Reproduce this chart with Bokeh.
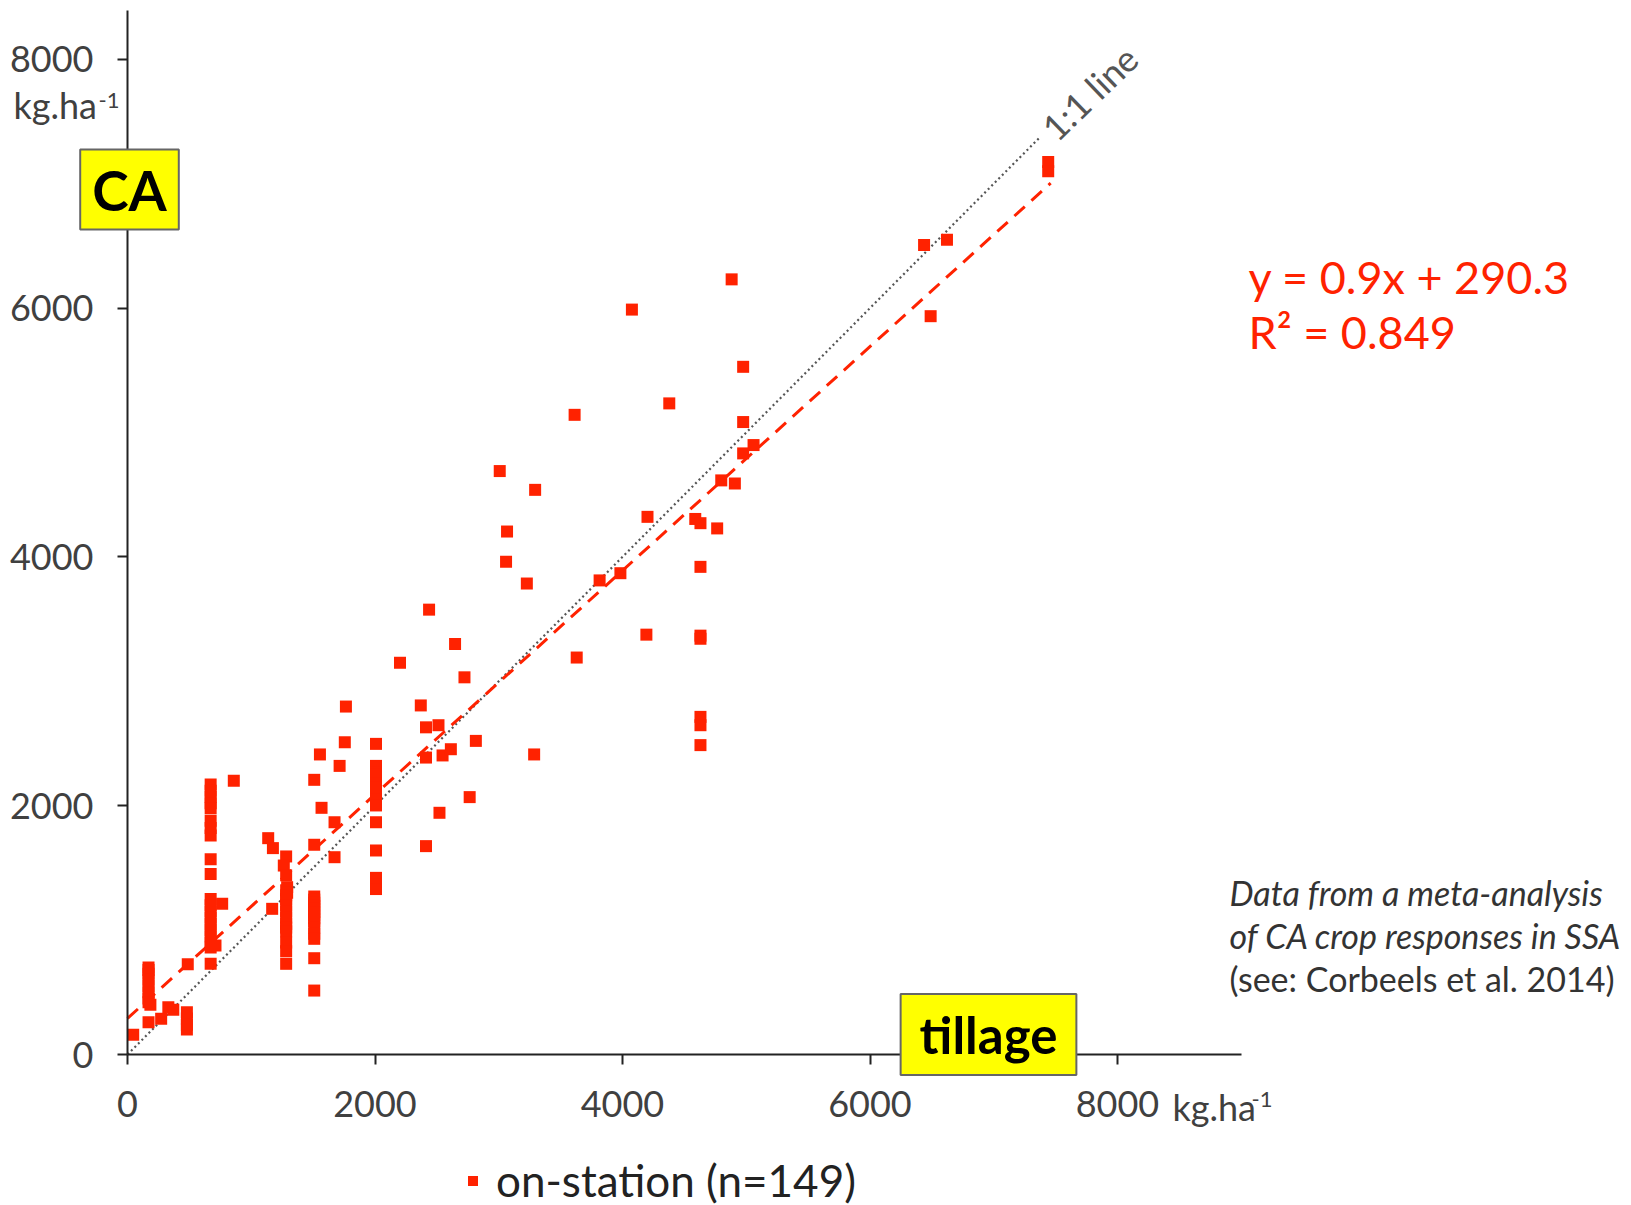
from bokeh.plotting import figure
from bokeh.models import Range1d, FixedTicker, Label, Legend, LegendItem, ColumnDataSource
from bokeh.embed import file_html
from bokeh.resources import INLINE

# ---- data: yield under conventional tillage (x) vs conservation agriculture (y), kg/ha ----
tillage_kg = [
    46, 170, 170, 170, 170, 170, 170, 170, 170, 185, 170, 272, 330, 370, 480, 480, 480, 480, 487,
    672, 672, 672, 672, 672, 672, 672, 672, 672, 672, 672, 672, 672, 672, 672, 672, 672, 672, 672, 672, 765, 711, 859,
    1137, 1175, 1282, 1263, 1282, 1290, 1282, 1290, 1282, 1282, 1282, 1282, 1282, 1282, 1282, 1282, 1282, 1282, 1282, 1169,
    1509, 1509, 1509, 1509, 1509, 1509, 1509, 1509, 1509, 1509, 1509, 1509, 1509, 1509, 1509, 1555, 1568, 1673, 1673, 1714, 1765, 1756, 1509,
    2008, 2008, 2008, 2008, 2008, 2008, 2008, 2008, 2008, 2008, 2008, 2008, 2008, 2008, 2008,
    2202, 2370, 2437, 2412, 2513, 2412, 2546, 2613, 2647, 2723, 2815, 2765, 2521, 2412, 3286, 3008, 3067, 3059, 3227, 3294,
    3613, 3630, 3815, 3983, 4076, 4202, 4193, 4378, 4588, 4630, 4765, 4630, 4630, 4630, 4630, 4630, 4630, 4798, 4908, 4882, 4975, 4975, 5059, 4975,
    6437, 6622, 6490, 7440, 7440,
]
ca_kg = [
    158, 700, 680, 650, 600, 550, 500, 450, 420, 400, 260, 287, 380, 360, 340, 290, 240, 200, 725,
    2170, 2120, 2070, 2020, 1980, 1880, 1820, 1760, 1570, 1450, 1250, 1200, 1150, 1100, 1050, 1000, 950, 900, 860, 729, 1211, 876, 2200,
    1739, 1659, 1592, 1519, 1440, 1345, 1320, 1300, 1280, 1250, 1200, 1150, 1100, 1050, 1020, 990, 900, 830, 729, 1171,
    1270, 1245, 1220, 1195, 1170, 1120, 1095, 1070, 1020, 970, 930, 774, 514, 1686, 2208, 2412, 1983, 1867, 1586, 2320, 2797, 2510, 1145,
    2497, 2320, 2270, 2250, 2200, 2180, 2150, 2100, 2050, 2002, 1867, 1640, 1420, 1370, 1330,
    3149, 2806, 3576, 2630, 2647, 2387, 2404, 2454, 3300, 3032, 2521, 2069, 1943, 1675, 2412, 4690, 4204, 3961, 3786, 4539,
    5142, 3191, 3811, 3869, 5988, 4322, 3375, 5234, 4305, 4271, 4229, 3920, 3367, 3342, 2714, 2647, 2487, 4615, 4590, 6231, 5528, 5084, 4899, 4832,
    6507, 6549, 5935, 7175, 7100,
]

# regression and 1:1 reference
reg_slope = 0.9
reg_intercept = 290.3
reg_x = [0, 7460]
reg_y = [reg_slope * v + reg_intercept for v in reg_x]
one_x = [0, 7380]
one_y = [0, 7380]

axis_ticks = [0, 2000, 4000, 6000, 8000]
series_label = "on-station (n=149)"
eq_lines = ["y = 0.9x + 290.3", "R\u00b2 = 0.849"]
note_lines = ["Data from a meta-analysis", "of CA crop responses in SSA", "(see: Corbeels et al. 2014)"]

RED = "#ff2200"
FONT = "Lato"
TXT = "#404040"

W, H = 1631, 1205
X0, SX = 127.0, 0.12375      # pixel of x=0, pixels per kg/ha
Y0, SY = 1054.0, 0.1244      # pixel of y=0, pixels per kg/ha


def dx(px):
    return (px - X0) / SX


def dy(py):
    return (Y0 - py) / SY


p = figure(width=W, height=H, output_backend="svg", toolbar_location=None,
           x_range=Range1d(dx(0), dx(W)), y_range=Range1d(dy(H), dy(0)),
           min_border=0)
p.outline_line_color = None
for g in p.grid:
    g.visible = False
p.background_fill_color = "white"
p.border_fill_color = "white"

p.xaxis[0].bounds = (0, 9000)
p.yaxis[0].bounds = (0, 8390)
for ax in (p.xaxis[0], p.yaxis[0]):
    ax.fixed_location = 0
    ax.ticker = FixedTicker(ticks=axis_ticks)
    ax.axis_line_color = "#222222"
    ax.axis_line_width = 2
    ax.major_tick_line_color = "#222222"
    ax.major_tick_line_width = 2
    ax.major_tick_out = 10
    ax.major_tick_in = 0
    ax.minor_tick_line_color = None
    ax.major_label_text_font = FONT
    ax.major_label_text_font_size = "36px"
    ax.major_label_text_color = TXT
p.xaxis[0].major_label_standoff = 26
p.yaxis[0].major_label_standoff = 24

# lines
p.line(one_x, one_y, line_color="#555555", line_width=2.2, line_dash="2 3")
p.line(reg_x, reg_y, line_color=RED, line_width=3, line_dash="14 9")

src = ColumnDataSource(dict(x=tillage_kg, y=ca_kg))
r = p.scatter("x", "y", source=src, marker="square", size=12, fill_color=RED, line_color=None)

legend = Legend(items=[LegendItem(label=series_label, renderers=[r])], location=(460, -1),
                label_text_font=FONT, label_text_font_size="44px", label_text_color="#222222",
                glyph_width=25, glyph_height=25, label_standoff=11, padding=0, margin=0,
                border_line_alpha=0, background_fill_alpha=0)
p.add_layout(legend)


def txt(px, py, text, size, color=TXT, style="normal", **kw):
    p.add_layout(Label(x=dx(px), y=dy(py), text=text, text_font=FONT, text_font_size=size,
                       text_font_style=style, text_color=color, text_baseline="alphabetic", **kw))


# unit labels
txt(13, 104, "kg.ha", "36px")
txt(98, 100, "-1", "22px")
txt(1172, 1106, "kg.ha", "36px")
txt(1251, 1099, "-1", "22px")

# CA / tillage boxes
p.add_layout(Label(x=dx(129), y=dy(189), text="CA", text_font=FONT, text_font_size="55px", text_font_style="bold",
                   text_color="black", text_align="center", text_baseline="middle",
                   background_fill_color="#ffff00", border_line_color="#666666", border_line_width=2,
                   padding=dict(left=12, right=12, top=7, bottom=7)))
p.add_layout(Label(x=dx(988), y=dy(1034), text="tillage", text_font=FONT, text_font_size="51px", text_font_style="bold",
                   text_color="black", text_align="center", text_baseline="middle",
                   background_fill_color="#ffff00", border_line_color="#666666", border_line_width=2,
                   padding=dict(left=19, right=19, top=10, bottom=10)))

# 1:1 label
p.add_layout(Label(x=7436, y=7407, text="1:1 line", text_font=FONT, text_font_size="36px",
                   text_color="#555555", angle=44, angle_units="deg", text_baseline="alphabetic"))

# equation
for i, t in enumerate(eq_lines):
    txt(1248, 276 + i * 55, t, "45px", color=RED)

# note
for i, t in enumerate(note_lines):
    txt(1229, 892 + i * 43, t, "34px", color="#333333", style="italic" if i < 2 else "normal")

open("out.html", "w").write(file_html(p, INLINE))
